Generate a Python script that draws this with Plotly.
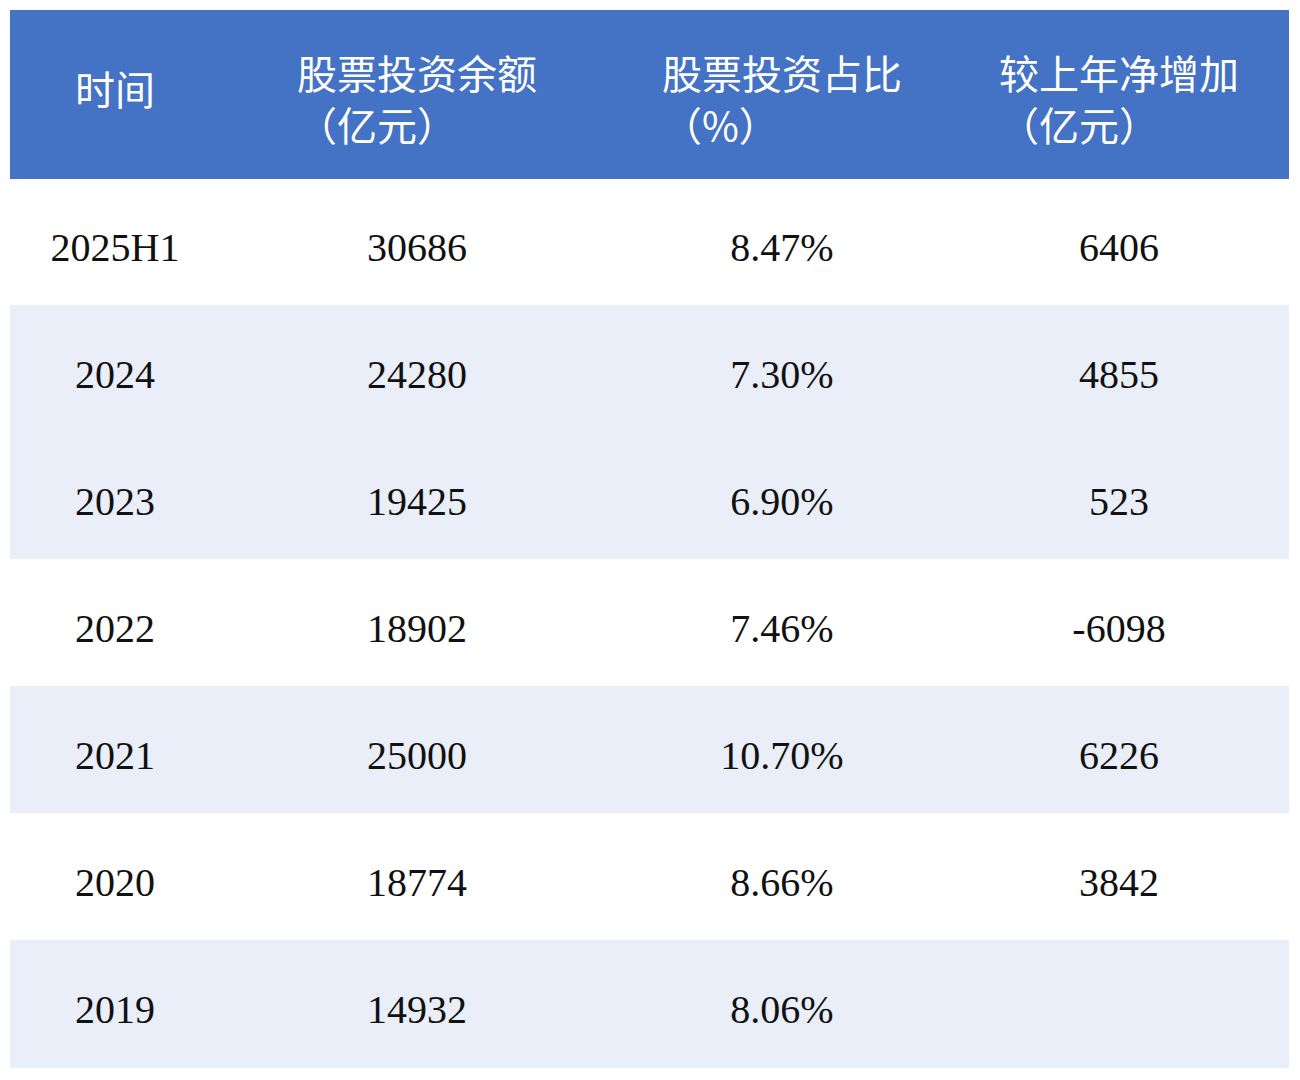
import plotly.graph_objects as go

headers = ["时间", "股票投资余额<br>（亿元）", "股票投资占比<br>（%）", "较上年净增加<br>（亿元）"]
periods = ["2025H1", "2024", "2023", "2022", "2021", "2020", "2019"]
balance = ["30686", "24280", "19425", "18902", "25000", "18774", "14932"]
share = ["8.47%", "7.30%", "6.90%", "7.46%", "10.70%", "8.66%", "8.06%"]
increase = ["6406", "4855", "523", "-6098", "6226", "3842", ""]

light = "#E9EEF8"
row_colors = ["white", light, light, "white", light, "white", light]

sp_c = "<span style='font-size:26px'> </span><br>"
sp_h2 = "<span style='font-size:16px'> </span><br>"
sp_h1 = "<span style='font-size:30px'> </span><br>"

def pad(col):
    return [sp_c + v if v else v for v in col]

hdr = [sp_h1 + headers[0]] + [sp_h2 + h for h in headers[1:]]

fig = go.Figure(go.Table(
    domain=dict(x=[2/1300, 1280/1300], y=[0, 1 - 2/1080]),
    columnwidth=[210, 394, 336, 338],
    header=dict(values=hdr, fill_color="#4472C4", line_color="#4472C4",
                font=dict(family="Noto Sans CJK SC", size=40, color="white"),
                align="center", height=168),
    cells=dict(values=[pad(periods), pad(balance), pad(share), pad(increase)],
               fill_color=[row_colors] * 4, line_color=[row_colors] * 4,
               font=dict(family="Liberation Serif", size=40, color="#111111"),
               align="center", height=127),
))
fig.update_layout(width=1300, height=1080, margin=dict(l=0, r=0, t=0, b=0),
                  paper_bgcolor="white")
fig.write_html("out.html")
